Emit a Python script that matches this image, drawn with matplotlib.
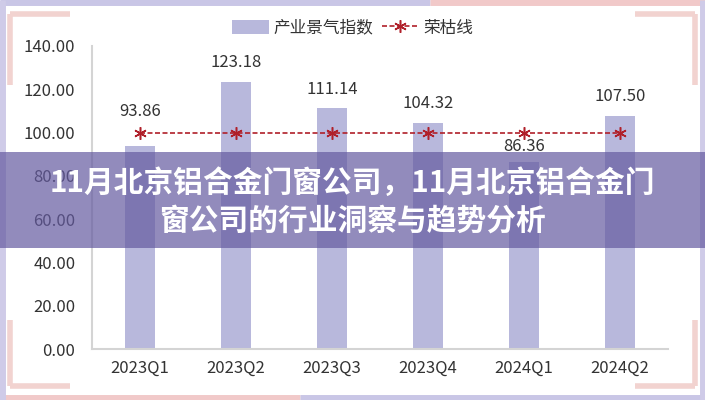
import numpy as np
import matplotlib.pyplot as plt
import matplotlib as mpl
from matplotlib.lines import Line2D
from matplotlib.patches import Rectangle

mpl.rcParams['font.family'] = ['Noto Sans CJK SC', 'DejaVu Sans']

# ---------- 数据 ----------
quarters = ['2023Q1', '2023Q2', '2023Q3', '2023Q4', '2024Q1', '2024Q2']
index_values = [93.86, 123.18, 111.14, 104.32, 86.36, 107.50]
boom_line = [100, 100, 100, 100, 100, 100]
yticks = [0, 20, 40, 60, 80, 100, 120, 140]
title_lines = ['11月北京铝合金门窗公司，11月北京铝合金门', '窗公司的行业洞察与趋势分析']

# 数值标签相对柱顶的偏移（points）
label_dy = [25, 14.5, 14, 14.5, 11, 14.5]

fig = plt.figure(figsize=(7.05, 4.00), dpi=100)
fig.patch.set_facecolor('white')
ax = fig.add_axes([0.1305, 0.1275, 0.817, 0.7575])

x = np.arange(len(quarters))
bars = ax.bar(x, index_values, width=0.31, color='#b8b8dc', zorder=2, label='产业景气指数')
line, = ax.plot(x, boom_line, color='#b0202a', linestyle=(0, (3, 1.5)), linewidth=1.2,
                marker=(6, 2, 0), markersize=9, markeredgewidth=1.1, zorder=3, label='荣枯线')

for xi, v, dy in zip(x, index_values, label_dy):
    ax.annotate(f'{v:.2f}', (xi, v), xytext=(0, dy), textcoords='offset points',
                ha='center', va='center', fontsize=12, color='#333333')

ax.set_xlim(-0.5, len(quarters) - 0.5)
ax.set_ylim(0, 140)
ax.set_yticks(yticks)
ax.set_yticklabels([f'{t:.2f}' for t in yticks])
ax.set_xticks(x)
ax.set_xticklabels(quarters)
ax.tick_params(length=0, labelsize=12, labelcolor='#333333', pad=8)
ax.tick_params(axis='y', pad=12)
for s in ['top', 'right']:
    ax.spines[s].set_visible(False)
for s in ['left', 'bottom']:
    ax.spines[s].set_color('#d4d4d4')
    ax.spines[s].set_linewidth(1.5)

fig.legend([bars, line], ['产业景气指数', '荣枯线'], loc='center', bbox_to_anchor=(0.5, 0.93),
           ncol=2, frameon=False, fontsize=12, handlelength=2.2, handleheight=0.9,
           handletextpad=0.3, columnspacing=0.5, labelcolor='#333333')

# ---------- 边框装饰 ----------
W, H = 705, 400
def fl(xs, ys, c, lw):
    fig.add_artist(Line2D([v / W for v in xs], [1 - v / H for v in ys], color=c, lw=lw,
                          transform=fig.transFigure, solid_capstyle='butt'))

fl([0, 430], [2, 2], '#c9c6e6', 5)
fl([430, 705], [2, 2], '#f1c9c9', 5)
fl([0, 300], [398, 398], '#f1c9c9', 5)
fl([300, 705], [398, 398], '#c9c6e6', 5)
fl([2, 2], [0, 400], '#cfcbe8', 5)
fl([703, 703], [0, 400], '#cfcbe8', 5)
# 四角
fl([10, 70], [14, 14], '#f2d3d0', 4)
fl([10, 10], [14, 85], '#f2d3d0', 4)
fl([635, 695], [14, 14], '#f2d3d0', 4)
fl([695, 695], [14, 85], '#f2d3d0', 4)
fl([10, 70], [386, 386], '#f2d3d0', 4)
fl([10, 10], [320, 386], '#f2d3d0', 4)
fl([635, 695], [386, 386], '#f2d3d0', 4)
fl([695, 695], [320, 386], '#f2d3d0', 4)

# ---------- 标题遮罩 ----------
fig.add_artist(Rectangle((0, 1 - 248 / H), 1, 96 / H, transform=fig.transFigure,
                         facecolor='#645aa0', alpha=0.7, edgecolor='none', zorder=10))
fig.text(0.5, 1 - 183 / H, title_lines[0], ha='center', va='center', fontsize=21.4,
         fontweight='bold', color='white', zorder=11)
fig.text(0.5, 1 - 221 / H, title_lines[1], ha='center', va='center', fontsize=21.4,
         fontweight='bold', color='white', zorder=11)

plt.savefig('out.png', dpi=100)
